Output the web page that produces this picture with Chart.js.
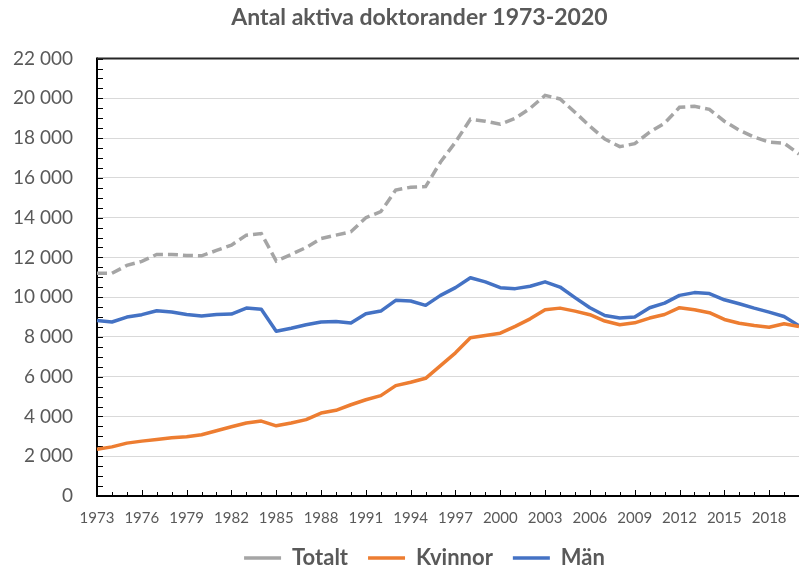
<!DOCTYPE html>
<html>
<head>
<meta charset="utf-8">
<title>Antal aktiva doktorander 1973-2020</title>
<script src="https://cdn.jsdelivr.net/npm/chart.js@4.4.1/dist/chart.umd.min.js"></script>
<style>
  html, body { margin: 0; padding: 0; background: #fff; }
  #chart { display: block; }
</style>
</head>
<body>
<canvas id="chart" width="799" height="568"></canvas>
<script>
// Data
var years = [];
for (var y = 1973; y <= 2020; y++) years.push(String(y));

var totalt = [11200, 11200, 11600, 11800, 12150, 12150, 12100, 12080, 12350, 12620,
  13120, 13200, 11820, 12150, 12500, 12950, 13120, 13290, 14000, 14300,
  15390, 15530, 15560, 16800, 17800, 18950, 18850, 18700, 19000, 19500,
  20150, 19970, 19300, 18600, 17950, 17570, 17720, 18300, 18750, 19550,
  19600, 19450, 18850, 18400, 18050, 17800, 17750, 17200];

var kvinnor = [2350, 2470, 2660, 2760, 2840, 2930, 2980, 3080, 3280, 3480,
  3670, 3770, 3530, 3670, 3840, 4170, 4310, 4590, 4840, 5050,
  5550, 5720, 5920, 6560, 7200, 7960, 8070, 8190, 8530, 8910,
  9370, 9450, 9300, 9120, 8800, 8610, 8710, 8950, 9130, 9470,
  9370, 9220, 8880, 8690, 8580, 8490, 8660, 8530];

var man = [8830, 8750, 9000, 9120, 9320, 9250, 9130, 9050, 9130, 9150,
  9450, 9390, 8290, 8440, 8610, 8750, 8780, 8700, 9170, 9300,
  9840, 9810, 9590, 10090, 10480, 10980, 10770, 10480, 10430, 10550,
  10770, 10510, 9980, 9470, 9080, 8950, 9000, 9470, 9700, 10090,
  10230, 10180, 9870, 9670, 9450, 9250, 9030, 8560];

var textColor = '#595959';
var fontName = 'Lato, "Open Sans", sans-serif';

function fmt(v) {
  return String(v).replace(/\B(?=(\d{3})+(?!\d))/g, ' ');
}

// axis lines + small inside tick marks, like the Excel original
var axesPlugin = {
  id: 'axesPlugin',
  afterLayout: function (chart) {
    // title and legend sit a bit right of the canvas centre in the original
    if (chart.titleBlock) { chart.titleBlock.left += 20; chart.titleBlock.right += 20; }
    if (chart.legend) { chart.legend.left += 25; chart.legend.right += 25; }
  },
  beforeDatasetsDraw: function (chart) {
    var ctx = chart.ctx;
    var area = chart.chartArea;
    var xs = chart.scales.x, ys = chart.scales.y;
    ctx.save();
    ctx.strokeStyle = '#000';
    ctx.lineWidth = 1;
    // y minor ticks every 500
    for (var v = 0; v <= 22000; v += 500) {
      var py = Math.round(ys.getPixelForValue(v)) + 0.5;
      ctx.beginPath();
      ctx.moveTo(area.left, py);
      ctx.lineTo(area.left + 6, py);
      ctx.stroke();
    }
    // x ticks every year
    for (var i = 0; i < years.length; i++) {
      var px = Math.round(xs.getPixelForValue(i)) + 0.5;
      ctx.beginPath();
      ctx.moveTo(px, area.bottom);
      ctx.lineTo(px, area.bottom - (i % 3 === 0 ? 6 : 4));
      ctx.stroke();
    }
    ctx.lineWidth = 2;
    ctx.beginPath();
    ctx.moveTo(area.left, area.top - 1);
    ctx.lineTo(area.left, area.bottom + 1);
    ctx.moveTo(area.left - 1, area.bottom);
    ctx.lineTo(area.right, area.bottom);
    ctx.stroke();
    ctx.strokeStyle = '#262626';
    ctx.beginPath();
    ctx.moveTo(area.left, area.top);
    ctx.lineTo(area.right, area.top);
    ctx.stroke();
    ctx.restore();
  }
};

var ctx = document.getElementById('chart');

var chartData = {
  labels: years,
  datasets: [{
    label: 'Totalt',
    data: totalt,
    borderColor: '#A5A5A5',
    backgroundColor: '#A5A5A5',
    borderWidth: 3.5,
    borderDash: [10, 5],
    pointRadius: 0,
    tension: 0
  }, {
    label: 'Kvinnor',
    data: kvinnor,
    borderColor: '#ED7D31',
    backgroundColor: '#ED7D31',
    borderWidth: 3.5,
    borderJoinStyle: 'round',
    pointRadius: 0,
    tension: 0
  }, {
    label: 'Män',
    data: man,
    borderColor: '#4472C4',
    backgroundColor: '#4472C4',
    borderWidth: 3.5,
    borderJoinStyle: 'round',
    pointRadius: 0,
    tension: 0
  }]
};

var config = {
  type: 'line',
  data: chartData,
  plugins: [axesPlugin],
  options: {
    responsive: false,
    animation: false,
    layout: { padding: { left: 0, right: 0, top: 0, bottom: -11 } },
    plugins: {
      title: {
        display: true,
        text: 'Antal aktiva doktorander 1973-2020',
        color: textColor,
        font: { family: fontName, size: 23, weight: 'bold' },
        padding: { top: 4, bottom: 27 }
      },
      legend: {
        position: 'bottom',
        labels: {
          color: textColor,
          font: { family: fontName, size: 22, weight: 'bold' },
          usePointStyle: true,
          pointStyle: 'line',
          pointStyleWidth: 37,
          padding: 20
        }
      },
      tooltip: { enabled: false }
    },
    scales: {
      x: {
        offset: false,
        grid: { display: false, drawTicks: true, tickLength: 13 },
        border: { display: false },
        ticks: {
          autoSkip: false,
          maxRotation: 0,
          padding: 0,
          color: textColor,
          font: { family: fontName, size: 15 },
          callback: function (val, i) { return i % 3 === 0 ? years[i] : ''; }
        }
      },
      y: {
        min: 0,
        max: 22000,
        afterFit: function (scale) { scale.width = 97; },
        grid: { color: '#D9D9D9', lineWidth: 1, drawTicks: false },
        border: { display: false },
        ticks: {
          stepSize: 2000,
          padding: 24,
          color: textColor,
          font: { family: fontName, size: 19 },
          callback: function (v) { return fmt(v); }
        }
      }
    }
  }
};

new Chart(ctx, config);
</script>
</body>
</html>
